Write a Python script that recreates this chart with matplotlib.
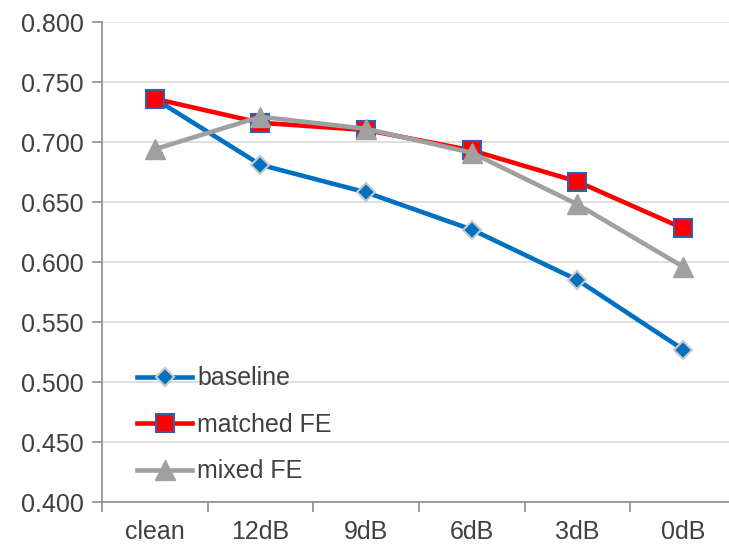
import numpy as np
import matplotlib.pyplot as plt

plt.rcParams['font.family'] = ['Liberation Sans', 'DejaVu Sans']

categories = ['clean', '12dB', '9dB', '6dB', '3dB', '0dB']
baseline = [0.736, 0.681, 0.658, 0.627, 0.585, 0.527]
matched_fe = [0.736, 0.716, 0.710, 0.693, 0.667, 0.628]
mixed_fe = [0.694, 0.721, 0.711, 0.691, 0.648, 0.596]

text_color = '#404040'
axis_color = '#8c8c8c'
fs = 18

fig = plt.figure(figsize=(7.29, 5.44), dpi=100)
ax = fig.add_axes([102 / 729, 42 / 544, 634 / 729, 480 / 544])

x = np.arange(len(categories))
ax.plot(x, baseline, color='#0070C0', lw=3.3, marker='D', ms=9,
        mfc='#0070C0', mec='#C8C8C8', mew=1.5, label='baseline', zorder=3)
ax.plot(x, matched_fe, color='#FF0000', lw=3.3, marker='s', ms=13,
        mfc='#FF0000', mec='#2F5FB0', mew=1.5, label='matched FE', zorder=4)
ax.plot(x, mixed_fe, color='#A0A0A0', lw=3.3, marker='^', ms=14,
        mfc='#A0A0A0', mec='#A0A0A0', mew=1, label='mixed FE', zorder=5)

ax.set_xlim(-0.5, len(categories) - 0.5)
ax.set_ylim(0.4, 0.8)
ax.set_yticks(np.arange(0.4, 0.801, 0.05))
ax.yaxis.set_major_formatter(plt.FuncFormatter(lambda v, p: f'{v:.3f}'))
ax.grid(axis='y', color='#D9D9D9', lw=1.2)
ax.set_axisbelow(True)

# category labels centred, tick marks between categories
ax.set_xticks(x)
ax.set_xticklabels(categories)
ax.set_xticks(np.arange(-0.5, len(categories), 1.0), minor=True)
ax.tick_params(axis='x', which='major', length=0, pad=13, labelsize=fs,
               labelcolor=text_color)
ax.tick_params(axis='x', which='minor', length=7, color=axis_color, width=1.2)
ax.tick_params(axis='y', length=7, color=axis_color, width=1.2, pad=6,
               labelsize=fs, labelcolor=text_color)

for side in ['top', 'right']:
    ax.spines[side].set_visible(False)
for side in ['left', 'bottom']:
    ax.spines[side].set_color(axis_color)
    ax.spines[side].set_linewidth(1.2)

ax.legend(loc='lower left', bbox_to_anchor=(0.04, 0.018), frameon=False,
          fontsize=fs, labelcolor=text_color, handlelength=2.2,
          handletextpad=0.2, labelspacing=0.9, borderaxespad=0)

fig.savefig('out.png', dpi=100)
